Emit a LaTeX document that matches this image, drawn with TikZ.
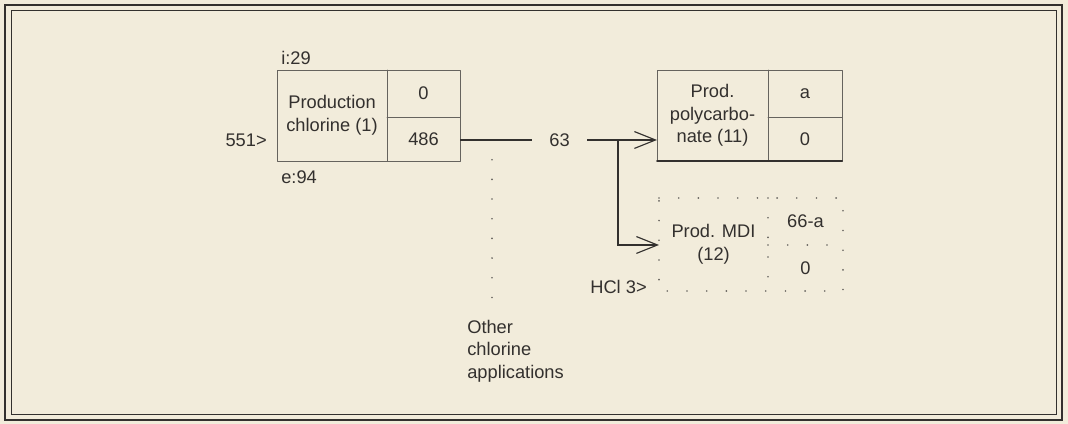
\documentclass[tikz,border=0pt]{standalone}
\usepackage{fontspec}
\setmainfont{Liberation Sans}
\usetikzlibrary{arrows.meta,calc}
\usepackage{tkz-euclide}
\definecolor{PaperClr}{rgb}{0.95,0.925,0.86}
\definecolor{InkClr}{rgb}{0.2,0.19,0.18}
\definecolor{LineClr}{rgb}{0.4,0.39,0.37}

\tikzset{
  lbl/.style={font=\fontsize{13}{16}\selectfont,text=InkClr,inner sep=0pt,align=center},
  dotline/.style={LineClr,line width=1.3pt,dash pattern=on 0pt off 14pt,line cap=round},
  flow/.style={InkClr,line width=0.8pt,-{Straight Barb[length=15pt,width=12pt,line width=0.8pt]}}
}

\begin{document}
\begin{tikzpicture}
\tkzSetUpLine[line width=0.6pt,color=LineClr]

\fill[PaperClr] (0,0) rectangle (26.7,10.6);
\draw[InkClr,line width=1.6pt] (0.125,0.1) rectangle (26.55,10.475);
\draw[InkClr,line width=0.7pt] (0.275,0.25) rectangle (26.4,10.325);

% chlorine production
\tkzDefPoints{6.925/8.85/P1,11.5/8.85/P2,11.5/6.575/P3,6.925/6.575/P4,
  9.675/8.85/P5,9.675/6.575/P6,9.675/7.675/P7,11.5/7.675/P8}
% polycarbonate
\tkzDefPoints{16.425/8.85/Q1,21.05/8.85/Q2,21.05/6.575/Q3,16.425/6.575/Q4,
  19.2/8.85/Q5,19.2/6.575/Q6,19.2/7.675/Q7,21.05/7.675/Q8}
% MDI
\tkzDefPoints{16.475/5.65/R1,21.075/5.65/R2,21.075/3.325/R3,16.475/3.325/R4,
  19.2/5.65/R5,19.2/3.325/R6,19.2/4.475/R7,21.075/4.475/R8}
% flows
\tkzDefPoints{11.5/7.1/F0,13.3/7.1/F1,14.675/7.1/F2,15.45/7.1/F3,
  16.425/7.1/F5,16.475/4.475/F6,12.3/7.1/G1,12.3/3.05/G2}

\tkzDrawPolygon(P1,P2,P3,P4)
\tkzDrawSegments(P5,P6 P7,P8)
\tkzDrawPolygon(Q1,Q2,Q3,Q4)
\tkzDrawSegments(Q5,Q6 Q7,Q8)
\tkzDrawSegment[line width=1.4pt,color=InkClr](Q3,Q4)
\tkzDrawPolygon[dotline](R1,R2,R3,R4)
\tkzDrawSegments[dotline](R5,R6 R7,R8)
\tkzDrawSegments[dotline](G1,G2)

\draw[InkClr,line width=0.8pt] (F0) -- (F1);
\draw[flow] (F2) -- (F5);
\draw[flow] (F3) |- (F6);

\node[lbl] (prod1) at ($(P1)!0.5!(P6)$) {Production\\chlorine (1)};
\node[lbl] (in1) at ($(P5)!0.5!(P8)$) {0};
\node[lbl] (out1) at ($(P7)!0.5!(P3)$) {486};
\node[lbl] (prod11) at ($(Q1)!0.5!(Q6)$) {Prod.\\polycarbo-\\nate (11)};
\node[lbl] (in11) at ($(Q5)!0.5!(Q8)$) {a};
\node[lbl] (out11) at ($(Q7)!0.5!(Q3)$) {0};
\node[lbl] (prod12) at ($(R1)!0.5!(R6)$) {Prod. MDI\\(12)};
\node[lbl] (in12) at ($(R5)!0.5!(R8)$) {66-a};
\node[lbl] (out12) at ($(R7)!0.5!(R3)$) {0};

\node[lbl] (flow63) at ($(F1)!0.5!(F2)$) {63};
\node[lbl,anchor=west] (imp) at (7.025,9.15) {i:29};
\node[lbl,anchor=west] (exp) at (7.025,6.175) {e:94};
\node[lbl,anchor=east] (feed) at (6.675,7.1) {551>};
\node[lbl,anchor=east] (hcl) at (16.175,3.425) {HCl 3>};
\node[lbl,anchor=west,align=left] (other) at (11.675,1.825) {Other\\chlorine\\applications};

\end{tikzpicture}
\end{document}
